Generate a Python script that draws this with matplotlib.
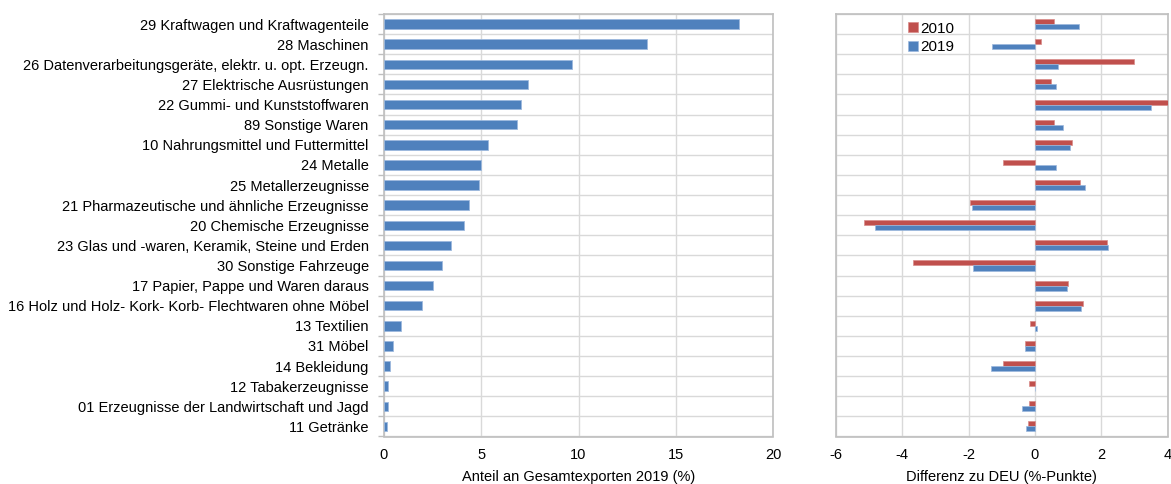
import matplotlib
matplotlib.use("Agg")
import matplotlib.pyplot as plt
import numpy as np

plt.rcParams['font.family'] = ['Liberation Sans', 'DejaVu Sans']
plt.rcParams['axes.unicode_minus'] = False

categories = [
    "29 Kraftwagen und Kraftwagenteile",
    "28 Maschinen",
    "26 Datenverarbeitungsgeräte, elektr. u. opt. Erzeugn.",
    "27 Elektrische Ausrüstungen",
    "22 Gummi- und Kunststoffwaren",
    "89 Sonstige Waren",
    "10 Nahrungsmittel und Futtermittel",
    "24 Metalle",
    "25 Metallerzeugnisse",
    "21 Pharmazeutische und ähnliche Erzeugnisse",
    "20 Chemische Erzeugnisse",
    "23 Glas und -waren, Keramik, Steine und Erden",
    "30 Sonstige Fahrzeuge",
    "17 Papier, Pappe und Waren daraus",
    "16 Holz und Holz- Kork- Korb- Flechtwaren ohne Möbel",
    "13 Textilien",
    "31 Möbel",
    "14 Bekleidung",
    "12 Tabakerzeugnisse",
    "01 Erzeugnisse der Landwirtschaft und Jagd",
    "11 Getränke",
]
share_2019 = [18.27, 13.52, 9.68, 7.42, 7.06, 6.85, 5.33, 4.97, 4.88, 4.37, 4.10,
              3.44, 3.00, 2.50, 1.94, 0.89, 0.46, 0.31, 0.22, 0.22, 0.14]
diff_2010 = [0.58, 0.18, 2.97, 0.47, 4.06, 0.58, 1.13, -0.96, 1.37, -1.94, -5.15,
             2.16, -3.67, 1.01, 1.45, -0.14, -0.30, -0.96, -0.17, -0.18, -0.21]
diff_2019 = [1.33, -1.28, 0.71, 0.65, 3.51, 0.84, 1.06, 0.63, 1.52, -1.89, -4.83,
             2.21, -1.85, 0.98, 1.38, 0.05, -0.31, -1.31, 0.01, -0.38, -0.27]

blue = "#4F81BD"
red = "#C0504D"
grid_c = "#D9D9D9"
frame_c = "#BFBFBF"
fs = 10.5

W, H = 1171, 484
fig = plt.figure(figsize=(W / 100, H / 100), dpi=100)

def px_axes(x0, x1, y0, y1):
    return fig.add_axes([x0 / W, 1 - y1 / H, (x1 - x0) / W, (y1 - y0) / H])

n = len(categories)
pos = np.arange(n)

# Left panel
ax1 = px_axes(384, 773, 14, 436.5)
ax1.barh(pos, share_2019, height=0.47, color=blue, edgecolor="#9DB9DD", linewidth=0.6, zorder=3)
ax1.set_xlim(0, 20)
ax1.set_ylim(n - 0.5, -0.5)
ax1.set_xticks([0, 5, 10, 15, 20])
ax1.set_yticks(pos)
ax1.set_yticklabels(categories, fontsize=fs)
ax1.set_yticks(np.arange(-0.5, n, 1), minor=True)
ax1.tick_params(axis='y', which='major', length=0, pad=11)
ax1.tick_params(axis='y', which='minor', length=4, color=frame_c, width=1)
ax1.tick_params(axis='x', length=0, labelsize=fs, pad=8, colors="#000000")
ax1.grid(True, which='minor', axis='y', color=grid_c, lw=1, zorder=0)
ax1.grid(True, which='major', axis='x', color=grid_c, lw=1, zorder=0)
ax1.set_xlabel("Anteil an Gesamtexporten 2019 (%)", fontsize=fs, labelpad=6)
for s in ax1.spines.values():
    s.set_color(frame_c)
    s.set_linewidth(1.2)

# Right panel
ax2 = px_axes(835.7, 1167.7, 14, 436.5)
h = 0.25
ax2.barh(pos - h / 2, diff_2010, height=h, color=red, edgecolor="#D98C8A", linewidth=0.5, zorder=3, label="2010")
ax2.barh(pos + h / 2, diff_2019, height=h, color=blue, edgecolor="#9DB9DD", linewidth=0.5, zorder=3, label="2019")
ax2.set_xlim(-6, 4)
ax2.set_ylim(n - 0.5, -0.5)
ax2.set_xticks([-6, -4, -2, 0, 2, 4])
ax2.set_yticks(np.arange(-0.5, n, 1))
ax2.set_yticklabels([])
ax2.tick_params(axis='y', length=0)
ax2.tick_params(axis='x', length=0, labelsize=fs, pad=8)
ax2.grid(True, axis='both', color=grid_c, lw=1, zorder=0)
ax2.set_xlabel("Differenz zu DEU (%-Punkte)", fontsize=fs, labelpad=6)
for s in ax2.spines.values():
    s.set_color(frame_c)
    s.set_linewidth(1.2)
leg = ax2.legend(loc='upper left', bbox_to_anchor=(0.195, 1.0), frameon=False, fontsize=11,
                 handlelength=0.65, handleheight=0.65, handletextpad=0.15, labelspacing=0.3,
                 borderaxespad=0.2, borderpad=0.3)

fig.savefig("out.png", dpi=100)
